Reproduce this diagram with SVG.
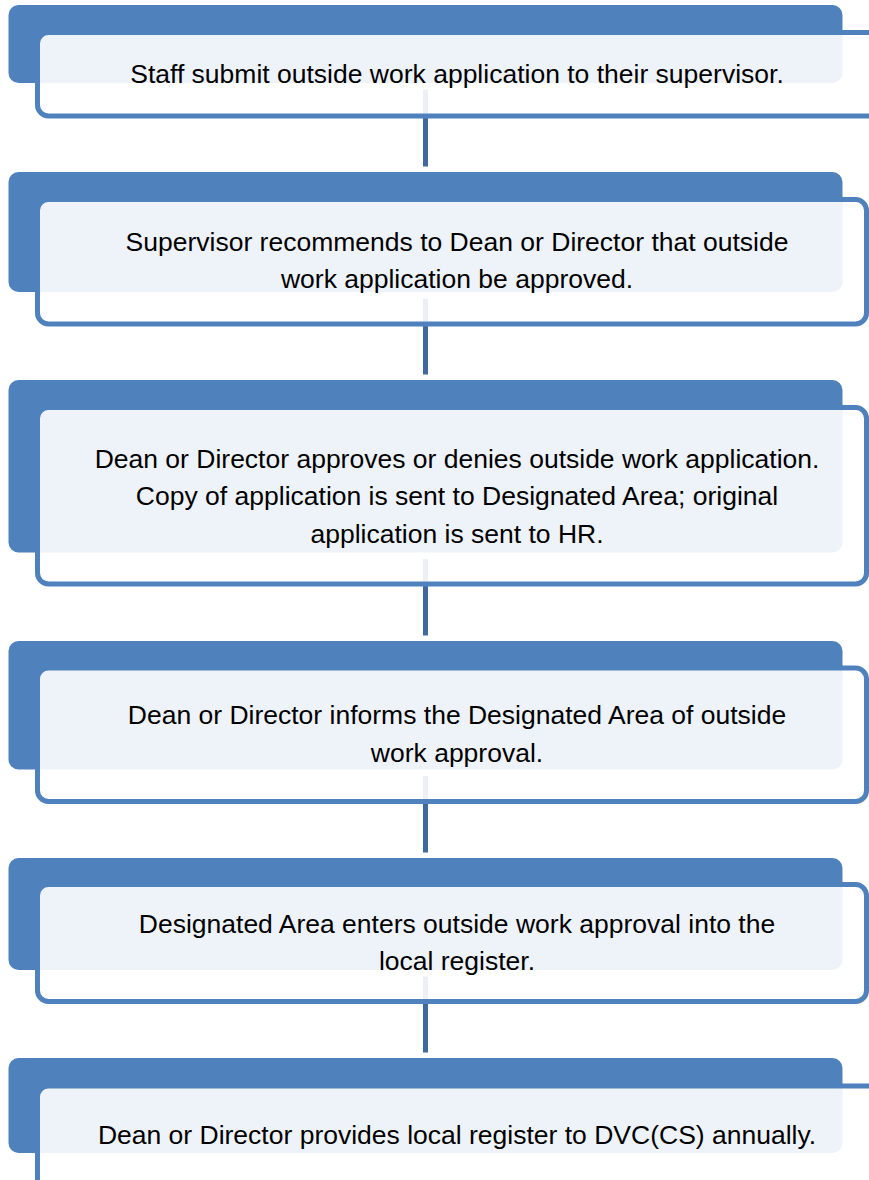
<svg xmlns="http://www.w3.org/2000/svg" width="869" height="1180" viewBox="0 0 869 1180">
<style>
.back{fill:#4F81BD;}
.front{fill:#FFFFFF;fill-opacity:0.9;stroke:#4F81BD;stroke-width:5;}
.conn{stroke:#42699E;stroke-width:5;fill:none;}
text{font-family:"Liberation Sans",Arial,sans-serif;font-size:26.5px;fill:#000000;text-anchor:middle;}
</style>
<rect width="869" height="1180" fill="#FFFFFF"/>
<g id="connectors">
<line class="conn" x1="425.5" y1="89.5" x2="425.5" y2="166.5"/>
<line class="conn" x1="425.5" y1="298.5" x2="425.5" y2="374.5"/>
<line class="conn" x1="425.5" y1="559" x2="425.5" y2="635.5"/>
<line class="conn" x1="425.5" y1="776" x2="425.5" y2="852.5"/>
<line class="conn" x1="425.5" y1="976.5" x2="425.5" y2="1052.5"/>
</g>
<g id="step1">
<rect class="back" x="8.5" y="5" width="834" height="78" rx="10"/>
<rect class="front" x="37.5" y="32.5" width="860" height="83.5" rx="11"/>
<text x="457" y="83">Staff submit outside work application to their supervisor.</text>
</g>
<g id="step2">
<rect class="back" x="8.5" y="172" width="834" height="120" rx="10"/>
<rect class="front" x="37.5" y="199.5" width="829" height="124.5" rx="11"/>
<text x="457" y="250.7">Supervisor recommends to Dean or Director that outside</text>
<text x="457" y="288.2">work application be approved.</text>
</g>
<g id="step3">
<rect class="back" x="8.5" y="380" width="834" height="172.5" rx="10"/>
<rect class="front" x="37.5" y="407.5" width="829" height="176.5" rx="11"/>
<text x="457" y="467.5">Dean or Director approves or denies outside work application.</text>
<text x="457" y="505">Copy of application is sent to Designated Area; original</text>
<text x="457" y="542.5">application is sent to HR.</text>
</g>
<g id="step4">
<rect class="back" x="8.5" y="641" width="834" height="128.5" rx="10"/>
<rect class="front" x="37.5" y="668" width="829" height="133.5" rx="11"/>
<text x="457" y="724.3">Dean or Director informs the Designated Area of outside</text>
<text x="457" y="761.8">work approval.</text>
</g>
<g id="step5">
<rect class="back" x="8.5" y="858" width="834" height="112" rx="10"/>
<rect class="front" x="37.5" y="884.5" width="829" height="117" rx="11"/>
<text x="457" y="932.7">Designated Area enters outside work approval into the</text>
<text x="457" y="970.2">local register.</text>
</g>
<g id="step6">
<rect class="back" x="8.5" y="1058" width="834" height="95" rx="10"/>
<rect class="front" x="37.5" y="1086" width="860" height="120" rx="11"/>
<text x="457" y="1144">Dean or Director provides local register to DVC(CS) annually.</text>
</g>
</svg>
